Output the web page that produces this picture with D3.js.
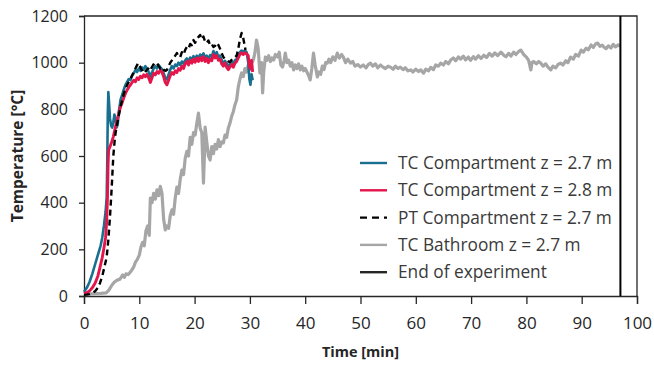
<!DOCTYPE html>
<html>
<head>
<meta charset="utf-8">
<script src="https://cdn.jsdelivr.net/npm/d3@7"></script>
<style>
  body { margin: 0; background: #fff; }
  svg text { font-family: "Open Sans", "Noto Sans", sans-serif; }
</style>
</head>
<body>
<div id="chart"></div>
<script>
// [time in min, temperature in °C]
const tcCompartment27 = [
  [0,18],[0.5,35],[1,60],[1.5,95],[2,135],[2.5,175],[3,215],[3.3,250],[3.6,300],[3.9,360],[4.1,420],[4.2,560],[4.3,780],[4.4,874],
  [4.55,820],[4.7,760],[4.9,730],[5.1,722],[5.3,745],[5.5,778],[5.7,760],[5.9,722],[6.1,735],[6.3,790],[6.6,840],[6.9,862],
  [7.2,885],[7.5,905],[7.8,918],[8.1,930],[8.4,925],[8.7,945],[9,955],[9.3,968],[9.6,960],[9.9,975],[10.2,965],[10.5,980],
  [10.8,970],[11.1,985],[11.4,975],[11.7,960],[12,940],[12.3,958],[12.6,975],[12.9,985],[13.2,975],[13.5,990],[13.8,980],
  [14.1,972],[14.4,955],[14.7,935],[15,928],[15.3,950],[15.6,970],[15.9,985],[16.2,975],[16.5,992],[16.8,985],[17.1,1000],
  [17.4,990],[17.7,1005],[18,995],[18.3,1010],[18.6,1018],[18.9,1005],[19.2,1022],[19.5,1012],[19.8,1028],[20.1,1015],
  [20.4,1030],[20.7,1020],[21,1035],[21.3,1025],[21.6,1040],[21.9,1022],[22.2,1030],[22.5,1015],[22.8,1032],[23.1,1025],
  [23.4,1050],[23.7,1035],[24,1045],[24.3,1025],[24.6,1030],[24.9,1012],[25.2,995],[25.5,1008],[25.8,995],[26.1,985],
  [26.4,995],[26.7,1005],[27,995],[27.3,1010],[27.6,1015],[27.9,1030],[28.2,1045],[28.5,1052],[28.8,1048],[29.1,1052],
  [29.4,1045],[29.7,1000],[29.9,930],[30.1,905],[30.3,950],[30.5,925]
];

const tcCompartment28 = [
  [0,10],[0.5,14],[1,22],[1.5,35],[2,55],[2.5,85],[2.9,124],[3.3,165],[3.6,205],[3.9,250],[4.1,320],[4.25,430],[4.35,560],
  [4.45,626],[4.7,640],[5,660],[5.3,682],[5.6,715],[6,754],[6.3,785],[6.6,810],[6.9,828],[7.2,850],[7.5,868],[7.8,883],
  [8.1,895],[8.4,905],[8.7,915],[9,925],[9.3,918],[9.6,935],[9.9,928],[10.2,942],[10.5,935],[10.8,948],[11.1,940],[11.4,950],
  [11.7,935],[12,915],[12.3,935],[12.6,955],[12.9,948],[13.2,962],[13.5,955],[13.8,968],[14.1,960],[14.4,940],[14.7,915],
  [15,905],[15.3,925],[15.6,945],[15.9,958],[16.2,950],[16.5,965],[16.8,958],[17.1,975],[17.4,968],[17.7,985],[18,975],
  [18.3,995],[18.6,1005],[18.9,990],[19.2,1010],[19.5,998],[19.8,1015],[20.1,1002],[20.4,1020],[20.7,1005],[21,1022],
  [21.3,1008],[21.6,1025],[21.9,1005],[22.2,1018],[22.5,1000],[22.8,1015],[23.1,1008],[23.4,1035],[23.7,1020],[24,1030],
  [24.3,1010],[24.6,1015],[24.9,995],[25.2,985],[25.5,998],[25.8,980],[26.1,970],[26.4,982],[26.7,992],[27,980],[27.3,998],
  [27.6,1005],[27.9,1020],[28.2,1035],[28.5,1042],[28.8,1035],[29.1,1042],[29.4,1038],[29.7,1030],[29.9,985],[30.1,975],
  [30.3,1010],[30.5,960]
];

const ptCompartment27 = [
  [0,5],[0.5,6],[1,8],[1.5,12],[2,20],[2.5,35],[2.9,56],[3.3,85],[3.7,125],[4.1,167],[4.4,240],[4.7,340],[5,460],[5.3,600],
  [5.6,680],[5.9,730],[6.2,760],[6.5,800],[6.9,840],[7.3,875],[7.8,905],[8.3,926],[8.7,945],[9.1,965],[9.5,985],[9.8,998],
  [10.1,985],[10.4,970],[10.7,958],[11,956],[11.3,968],[11.6,975],[11.9,965],[12.2,978],[12.5,990],[12.8,1000],[13.2,998],
  [13.5,985],[13.8,975],[14.1,980],[14.4,970],[14.7,965],[15,969],[15.3,985],[15.6,1000],[15.9,1010],[16.2,1020],[16.5,1030],
  [16.8,1041],[17.1,1025],[17.4,1024],[17.7,1045],[18,1035],[18.3,1055],[18.6,1067],[18.9,1060],[19.2,1080],[19.5,1075],
  [19.8,1097],[20.1,1085],[20.4,1105],[20.7,1110],[21,1119],[21.3,1100],[21.6,1112],[21.9,1090],[22.2,1084],[22.5,1095],
  [22.8,1075],[23.1,1080],[23.4,1067],[23.7,1072],[24,1085],[24.3,1076],[24.6,1060],[24.9,1040],[25.2,1024],[25.5,1015],
  [25.8,1010],[26.1,1005],[26.4,1003],[26.7,1012],[27,1020],[27.3,1024],[27.6,1030],[27.9,1060],[28.2,1100],[28.5,1127],
  [28.8,1105],[29,1080],[29.2,1054]
];

const tcBathroom27 = [
  [0,8],[1,9],[2,10],[3,11],[4,13],[4.5,25],[5,45],[5.5,60],[6,68],[6.5,72],[7,90],[7.3,80],[7.6,95],[8,92],[8.3,100],
  [8.6,110],[9,125],[9.3,145],[9.6,155],[10,175],[10.3,210],[10.6,230],[10.9,215],[11.2,280],[11.5,300],[11.8,260],[12,420],
  [12.3,400],[12.6,440],[12.9,415],[13.2,455],[13.5,430],[13.8,470],[14.1,440],[14.4,330],[14.7,283],[15,300],[15.3,290],
  [15.6,345],[15.9,369],[16.2,350],[16.5,420],[16.8,467],[17.1,440],[17.4,500],[17.7,540],[18,520],[18.3,590],[18.6,620],
  [18.9,600],[19.2,680],[19.5,650],[19.8,700],[20.1,690],[20.4,740],[20.7,784],[21,720],[21.3,700],[21.6,484],[21.8,620],
  [21.9,724],[22.2,660],[22.5,600],[22.8,583],[23.1,640],[23.4,610],[23.7,650],[24,630],[24.3,670],[24.6,640],[24.9,660],
  [25.2,656],[25.5,690],[25.8,680],[26.1,720],[26.4,741],[26.7,770],[27,790],[27.3,820],[27.6,840],[27.9,896],[28.2,930],
  [28.5,956],[28.8,940],[29.1,975],[29.4,960],[29.7,990],[30,970],[30.3,998],[30.6,1010],[30.9,1041],[31.2,1097],[31.5,1060],
  [31.8,956],[32.1,1000],[32.3,870],[32.5,960],[32.8,1024],[33.1,1010],[33.4,1030],[33.7,1005],[34,1020],[34.3,1011],
  [34.6,1035],[35,1024],[35.3,1045],[35.6,990],[35.9,981],[36.2,1010],[36.4,1041],[36.7,1000],[37,1011],[37.3,985],
  [37.6,1000],[37.9,969],[38.2,990],[38.5,975],[38.8,995],[39.1,969],[39.4,985],[39.7,965],[40,975],[40.4,956],[40.7,940],
  [40.9,926],[41.2,975],[41.5,1041],[41.8,990],[42.2,939],[42.5,960],[42.8,950],[43.1,985],[43.4,970],[43.7,1000],[44,998],
  [44.3,1015],[44.6,1000],[45,1025],[45.4,1010],[45.8,1041],[46.2,1020],[46.6,1035],[46.9,1024],[47.3,1000],[47.7,1015],
  [48.2,998],[48.6,1005],[49,985],[49.5,992],[50,981],[50.5,990],[51,978],[51.4,992],[51.8,998],[52.2,985],[52.7,995],
  [53.1,978],[53.6,990],[54,982],[54.5,975],[55,985],[55.4,981],[55.9,972],[56.3,985],[56.8,975],[57.2,981],[57.7,970],
  [58.1,978],[58.6,965],[59.1,969],[59.5,960],[60,972],[60.5,962],[60.9,969],[61.4,955],[61.8,972],[62.3,965],[62.7,980],
  [63.2,970],[63.6,990],[64.1,985],[64.5,998],[65,990],[65.4,1005],[65.9,995],[66.3,1011],[66.8,1020],[67.2,1008],
  [67.7,1025],[68.1,1015],[68.6,1028],[69,1012],[69.5,1024],[69.9,1010],[70.4,1026],[70.8,1015],[71.3,1030],[71.8,1018],
  [72.3,1032],[72.8,1022],[73.3,1040],[73.8,1028],[74.3,1042],[74.8,1030],[75.4,1045],[75.9,1032],[76.3,1025],[76.8,1040],
  [77.2,1028],[77.7,1045],[78.1,1035],[78.6,1048],[79,1054],[79.5,1035],[80,1024],[80.4,1010],[80.8,969],[81,1000],
  [81.3,1005],[81.8,995],[82.2,1005],[82.6,998],[83,985],[83.5,995],[83.9,981],[84.4,969],[84.8,985],[85.3,978],[85.7,992],
  [86.2,998],[86.6,990],[87.1,1008],[87.5,1000],[88,1024],[88.5,1015],[88.9,1035],[89.4,1028],[89.9,1054],[90.3,1045],
  [90.8,1062],[91.2,1055],[91.7,1076],[92.1,1065],[92.5,1080],[92.9,1084],[93.3,1070],[93.7,1075],[94,1067],[94.4,1060],
  [94.8,1072],[95.3,1063],[95.7,1078],[96.1,1068],[96.6,1076],[96.9,1070]
];

const endOfExperiment = 97;

const xTicks = [0, 10, 20, 30, 40, 50, 60, 70, 80, 90, 100];
const yTicks = [0, 200, 400, 600, 800, 1000, 1200];

const legendLabels = ["TC Compartment z = 2.7 m", "TC Compartment z = 2.8 m", "PT Compartment z = 2.7 m", "TC Bathroom z = 2.7 m", "End of experiment"];

const width = 654;
const height = 365;
const margin = { top: 16, right: 17, bottom: 69, left: 84 };

const svg = d3.select("#chart")
  .append("svg")
  .attr("width", width)
  .attr("height", height);

const x = d3.scaleLinear().domain([0, 100]).range([margin.left, width - margin.right]);
const y = d3.scaleLinear().domain([0, 1200]).range([height - margin.bottom, margin.top]);

// frame: top and right border
svg.append("path")
  .attr("d", `M${x(0)},${y(1200)}H${x(100)}V${y(0)}`)
  .attr("fill", "none")
  .attr("stroke", "#262626")
  .attr("stroke-width", 1.3);

// axes
const xAxis = svg.append("g")
  .attr("transform", `translate(0,${y(0)})`)
  .call(d3.axisBottom(x).tickValues(xTicks).tickSize(8).tickPadding(13).tickFormat(d3.format("d")));
const yAxis = svg.append("g")
  .attr("transform", `translate(${x(0)},0)`)
  .call(d3.axisLeft(y).tickValues(yTicks).tickSize(5).tickPadding(11).tickFormat(d3.format("d")));

[xAxis, yAxis].forEach(g => {
  g.select(".domain").attr("stroke", "#262626").attr("stroke-width", 1.3);
  g.selectAll(".tick line").attr("stroke", "#262626").attr("stroke-width", 1.3);
  g.selectAll("text").attr("fill", "#262626").style("font-family", "'Open Sans', sans-serif");
});
xAxis.selectAll("text").style("font-size", "17px");
yAxis.selectAll("text").style("font-size", "16px");

// axis titles
svg.append("text")
  .attr("x", (x(0) + x(100)) / 2)
  .attr("y", 357)
  .attr("text-anchor", "middle")
  .style("font-size", "14.5px")
  .style("font-weight", "bold")
  .attr("fill", "#262626")
  .text("Time [min]");
svg.append("text")
  .attr("transform", `translate(23,${(y(0) + y(1200)) / 2}) rotate(-90)`)
  .attr("text-anchor", "middle")
  .style("font-size", "15.5px")
  .style("font-weight", "bold")
  .attr("fill", "#262626")
  .text("Temperature [°C]");

const line = d3.line()
  .x(d => x(d[0]))
  .y(d => y(d[1]));

const series = [
  { data: tcBathroom27, color: "#a6a6a6", width: 3.2, dash: null },
  { data: tcCompartment27, color: "#17708f", width: 2.6, dash: null },
  { data: tcCompartment28, color: "#e4154b", width: 2.9, dash: null },
  { data: ptCompartment27, color: "#000", width: 2.4, dash: "6,4" }
];

svg.append("g")
  .selectAll("path")
  .data(series)
  .join("path")
  .attr("d", d => line(d.data))
  .attr("fill", "none")
  .attr("stroke", d => d.color)
  .attr("stroke-width", d => d.width)
  .attr("stroke-dasharray", d => d.dash)
  .attr("stroke-linejoin", "round");

// end of experiment marker
svg.append("line")
  .attr("x1", x(endOfExperiment))
  .attr("x2", x(endOfExperiment))
  .attr("y1", y(1200))
  .attr("y2", y(0))
  .attr("stroke", "#000")
  .attr("stroke-width", 2);

// legend
const legendStyles = [
  { color: "#17708f", dash: null },
  { color: "#e4154b", dash: null },
  { color: "#000", dash: "7,5" },
  { color: "#a6a6a6", dash: null },
  { color: "#262626", dash: null }
];

const legend = svg.append("g").attr("class", "legend");
legendLabels.forEach((label, i) => {
  const ly = 163 + i * 27.3;
  legend.append("line")
    .attr("x1", 360).attr("x2", 387)
    .attr("y1", ly).attr("y2", ly)
    .attr("stroke", legendStyles[i].color)
    .attr("stroke-width", 2.4)
    .attr("stroke-dasharray", legendStyles[i].dash);
  legend.append("text")
    .attr("x", 398)
    .attr("y", ly)
    .attr("dy", "0.35em")
    .style("font-size", "17.3px")
    .attr("fill", "#3a3a3a")
    .text(label);
});
</script>
</body>
</html>
